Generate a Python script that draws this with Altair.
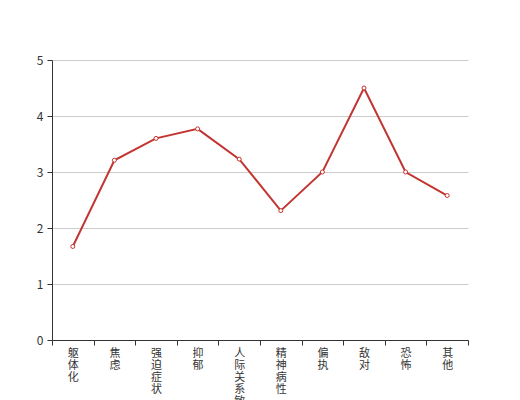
import altair as alt
import pandas as pd

categories = ["躯体化", "焦虑", "强迫症状", "抑郁", "人际关系敏感", "精神病性", "偏执", "敌对", "恐怖", "其他"]
values = [1.67, 3.21, 3.60, 3.77, 3.23, 2.31, 3.00, 4.50, 3.00, 2.58]

df = pd.DataFrame({"cat": categories, "val": values})

FONT = "Noto Sans CJK SC"
RED = "#c23531"

x = alt.X("cat:N", sort=categories, bandPosition=0.5,
          scale=alt.Scale(type="band", paddingInner=0, paddingOuter=0),
          axis=alt.Axis(title=None, labelAngle=0, labelExpr="split(datum.label, '')",
                        labelLineHeight=12, labelFontSize=11, labelColor="#333",
                        labelFont=FONT, labelPadding=2, labelBaseline="top",
                        labelOverlap=False,
                        tickBand="extent", tickSize=5, tickColor="#333",
                        domainColor="#333", grid=False))
y = alt.Y("val:Q", scale=alt.Scale(domain=[0, 5], nice=False),
          axis=alt.Axis(title=None, values=[0, 1, 2, 3, 4, 5], labelFontSize=12,
                        labelColor="#333", labelFont=FONT, tickSize=5, tickColor="#333",
                        domainColor="#333", gridColor="#ccc", labelPadding=4))

line = alt.Chart(df).mark_line(color=RED, strokeWidth=2).encode(x=x, y=y)
pts = alt.Chart(df).mark_point(filled=True, fill="white", stroke=RED, strokeWidth=1,
                               size=16, opacity=1, shape="circle").encode(x=x, y=y)

chart = (line + pts).properties(
    width=416, height=280,
    autosize=alt.AutoSizeParams(type="none"),
    padding={"left": 44, "top": 52, "right": 36, "bottom": 60},
).configure_view(stroke=None)

chart.save("out.html", embed_options={"renderer": "svg", "actions": False})
